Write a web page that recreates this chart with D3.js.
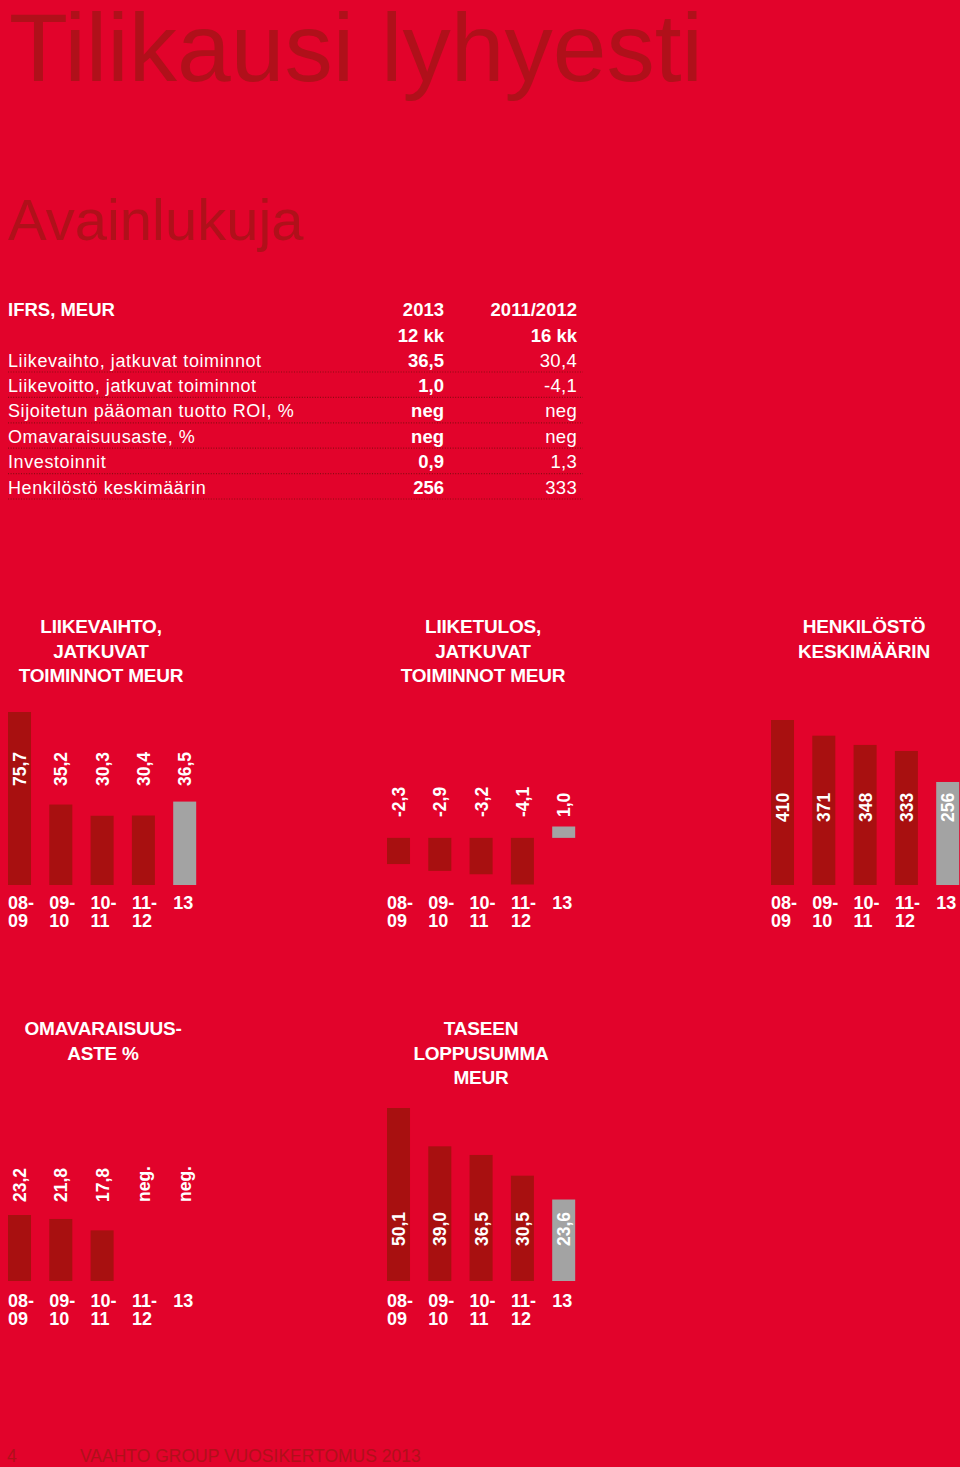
<!DOCTYPE html>
<meta charset="utf-8">
<style>
  body { margin: 0; background: #e2032b; }
  svg { display: block; }
  text { font-family: "Liberation Sans", Arial, sans-serif; }
</style>
<body>
<div id="page"></div>
<script src="https://cdn.jsdelivr.net/npm/d3@7"></script>
<script>
// --- data ---
const periods = [["08-", "09"], ["09-", "10"], ["10-", "11"], ["11-", "12"], ["13"]];

const tableHead = ["IFRS, MEUR", "2013", "2011/2012"];
const tableSub = ["", "12 kk", "16 kk"];
const tableLabels = ["Liikevaihto, jatkuvat toiminnot", "Liikevoitto, jatkuvat toiminnot",
  "Sijoitetun pääoman tuotto ROI, %", "Omavaraisuusaste, %", "Investoinnit", "Henkilöstö keskimäärin"];
const values2013 = ["36,5", "1,0", "neg", "neg", "0,9", "256"];
const values2011 = ["30,4", "-4,1", "neg", "neg", "1,3", "333"];

const liikevaihto = [75.7, 35.2, 30.3, 30.4, 36.5];
const liiketulos = [-2.3, -2.9, -3.2, -4.1, 1.0];
const henkilosto = [410, 371, 348, 333, 256];
const omavaraisuus = [23.2, 21.8, 17.8, null, null];
const taseen = [50.1, 39.0, 36.5, 30.5, 23.6];

const W = 960, H = 1467;
const red = "#e2032b", dark = "#a81010", grey = "#a3a3a3", titleCol = "#b0101a";

const svg = d3.select("#page").append("svg")
    .attr("width", W)
    .attr("height", H);

svg.append("rect").attr("width", W).attr("height", H).style("fill", red);

// headings
svg.append("text")
    .attr("x", 9).attr("y", 81)
    .attr("textLength", 694).attr("lengthAdjust", "spacingAndGlyphs")
    .style("font-size", "97px").style("fill", titleCol)
    .text("Tilikausi lyhyesti");

svg.append("text")
    .attr("x", 8).attr("y", 240)
    .style("font-size", "58px").style("fill", titleCol)
    .text("Avainlukuja");

// --- key figures table ---
const colX = [8, 444, 577];
const table = svg.append("g").style("fill", "#fff");

[tableHead, tableSub].forEach(function(row, r) {
    row.forEach(function(t, c) {
        table.append("text")
            .attr("x", colX[c]).attr("y", 316 + r * 25.5)
            .attr("text-anchor", c === 0 ? "start" : "end")
            .style("font-size", "18.5px").style("font-weight", "bold")
            .text(t);
    });
});

tableLabels.forEach(function(t, i) {
    const y = 366.5 + i * 25.4;
    table.append("text")
        .attr("x", colX[0]).attr("y", y)
        .style("font-size", "18px").style("letter-spacing", "0.6px")
        .text(t);
    table.append("text")
        .attr("x", colX[1]).attr("y", y).attr("text-anchor", "end")
        .style("font-size", "18.5px").style("font-weight", "bold")
        .text(values2013[i]);
    table.append("text")
        .attr("x", colX[2]).attr("y", y).attr("text-anchor", "end")
        .style("font-size", "18.5px").style("letter-spacing", "0.3px")
        .text(values2011[i]);
    table.append("line") // dotted separator
        .attr("x1", 8).attr("x2", 583)
        .attr("y1", y + 5.5).attr("y2", y + 5.5)
        .style("stroke", "#8e0a12").style("stroke-width", 1.2)
        .style("stroke-dasharray", "1,1.6");
});

// --- bar charts ---
function fmt(v, dec) {
    if (v == null) return "neg.";
    return d3.format("." + dec + "f")(v).replace("−", "-").replace(".", ",");
}

function barChart(opts) {
    const g = svg.append("g");

    // chart title
    opts.title.forEach(function(t, i) {
        g.append("text")
            .attr("x", opts.cx).attr("y", opts.titleY + i * 24.5)
            .attr("text-anchor", "middle")
            .style("font-size", "19px").style("font-weight", "bold")
            .style("fill", "#fff").style("letter-spacing", "-0.2px")
            .text(t);
    });

    const x = d3.scaleBand()
        .domain(d3.range(periods.length))
        .range([opts.x0, opts.x0 + 41.3 * (periods.length - 0.443)])
        .paddingInner(0.443)
        .paddingOuter(0);

    const y = d3.scaleLinear().domain(opts.domain).range(opts.range);
    const zero = y(0);

    const data = opts.values.map((v, i) => ({ v: v, i: i }));

    g.selectAll("rect.bar")
        .data(data.filter(d => d.v != null))
        .enter().append("rect")
        .attr("class", "bar")
        .attr("x", d => x(d.i))
        .attr("width", x.bandwidth())
        .attr("y", d => Math.min(y(d.v), zero))
        .attr("height", d => Math.abs(y(d.v) - zero))
        .style("fill", d => d.i === periods.length - 1 ? grey : dark);

    // value labels, rotated
    g.selectAll("text.val")
        .data(data)
        .enter().append("text")
        .attr("class", "val")
        .attr("transform", d => "translate(" + (x(d.i) + x.bandwidth() / 2 + 6.5) + "," + opts.labelY + ") rotate(-90)")
        .style("font-size", "17.5px").style("font-weight", "bold")
        .style("fill", "#fff")
        .text(d => fmt(d.v, opts.dec));

    // period labels
    const cat = g.selectAll("text.cat")
        .data(periods)
        .enter().append("text")
        .attr("class", "cat")
        .attr("y", opts.catY)
        .style("font-size", "18px").style("font-weight", "bold")
        .style("fill", "#fff");
    cat.selectAll("tspan")
        .data((d, i) => d.map(s => ({ s: s, i: i })))
        .enter().append("tspan")
        .attr("x", d => x(d.i))
        .attr("dy", (d, j) => j === 0 ? 0 : 18)
        .text(d => d.s);
}

barChart({
    title: ["LIIKEVAIHTO,", "JATKUVAT", "TOIMINNOT MEUR"], cx: 101, titleY: 633,
    values: liikevaihto, dec: 1, x0: 8,
    domain: [0, 75.7], range: [885, 712], labelY: 786, catY: 909
});

barChart({
    title: ["LIIKETULOS,", "JATKUVAT", "TOIMINNOT MEUR"], cx: 483, titleY: 633,
    values: liiketulos, dec: 1, x0: 387,
    domain: [-4.1, 1.0], range: [884.5, 826.5], labelY: 817, catY: 909
});

barChart({
    title: ["HENKILÖSTÖ", "KESKIMÄÄRIN"], cx: 864, titleY: 633,
    values: henkilosto, dec: 0, x0: 771,
    domain: [0, 410], range: [885, 720], labelY: 822, catY: 909
});

barChart({
    title: ["OMAVARAISUUS-", "ASTE %"], cx: 103, titleY: 1035,
    values: omavaraisuus, dec: 1, x0: 8,
    domain: [0, 23.2], range: [1281, 1215], labelY: 1202, catY: 1307
});

barChart({
    title: ["TASEEN", "LOPPUSUMMA", "MEUR"], cx: 481, titleY: 1035,
    values: taseen, dec: 1, x0: 387,
    domain: [0, 50.1], range: [1281, 1108], labelY: 1246, catY: 1307
});

// footer
svg.append("text")
    .attr("x", 7).attr("y", 1462)
    .style("font-size", "17.5px").style("fill", titleCol)
    .text("4");
svg.append("text")
    .attr("x", 80).attr("y", 1462)
    .style("font-size", "17.5px").style("fill", titleCol)
    .text("VAAHTO GROUP VUOSIKERTOMUS 2013");
</script>
</body>
